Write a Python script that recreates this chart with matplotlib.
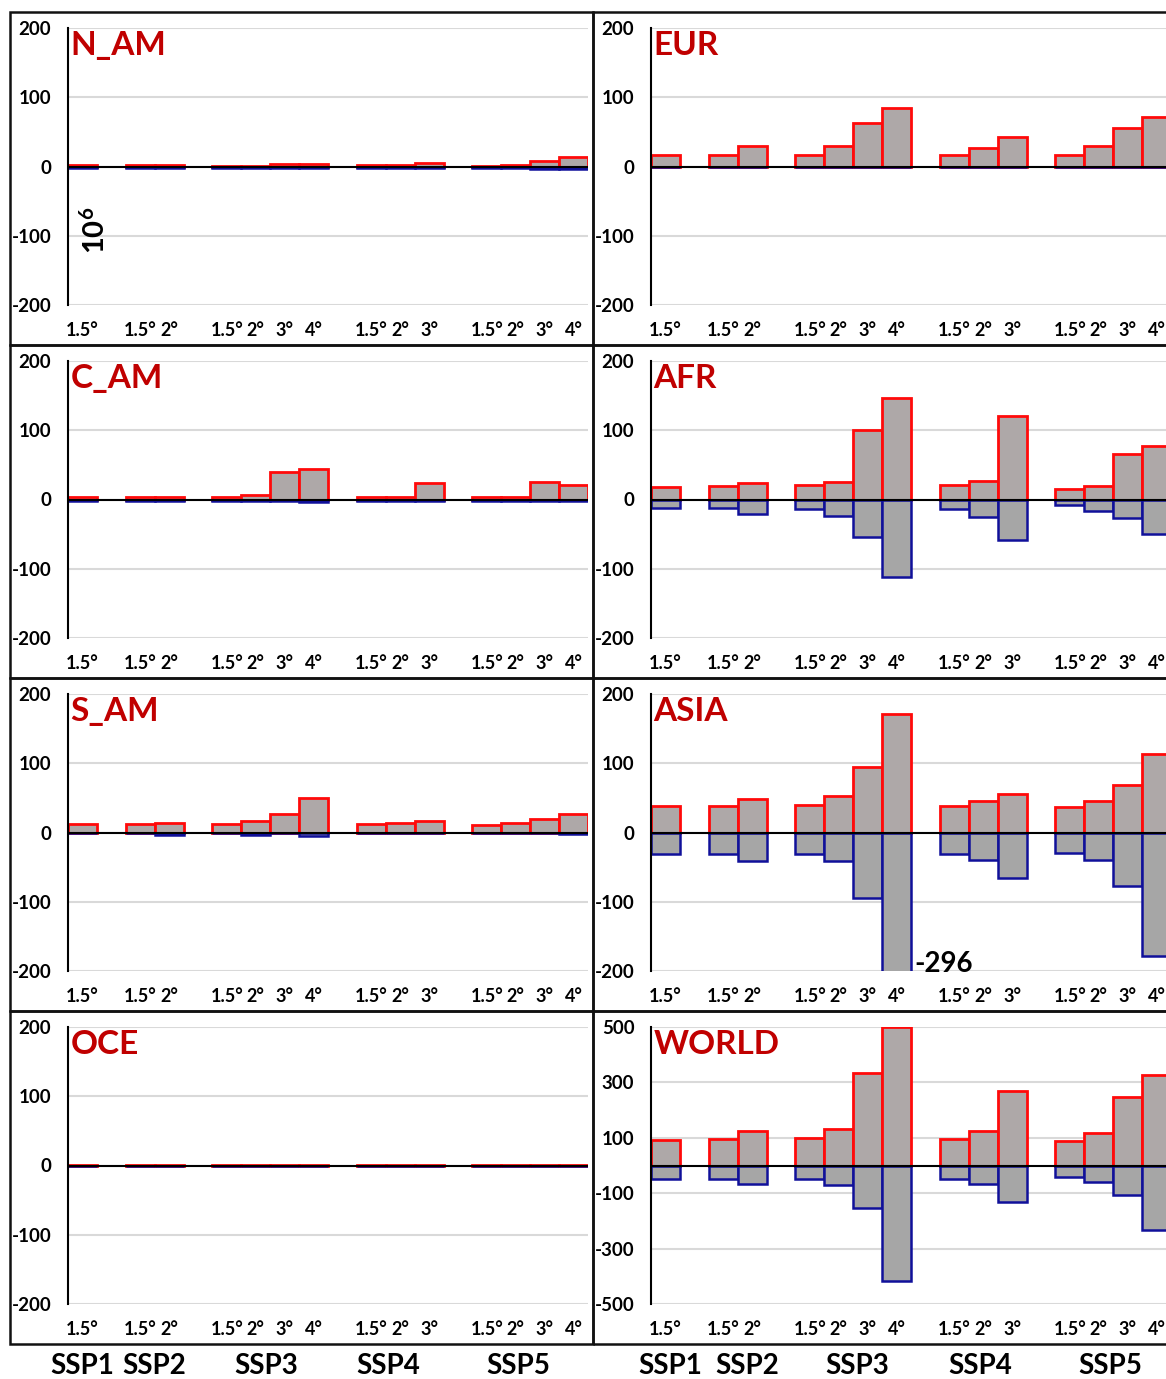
import matplotlib
matplotlib.use('Agg')
import matplotlib.pyplot as plt
from matplotlib.patches import Rectangle
from matplotlib.transforms import blended_transform_factory
import numpy as np

plt.rcParams['font.family'] = ['Lato', 'DejaVu Sans']
plt.rcParams['mathtext.fontset'] = 'custom'
plt.rcParams['mathtext.bf'] = 'Lato:bold'
plt.rcParams['mathtext.rm'] = 'Lato:bold'

# ---------------- data ----------------
ssp_groups = ['SSP1', 'SSP2', 'SSP3', 'SSP4', 'SSP5']
warming_levels = [['1.5°'], ['1.5°', '2°'], ['1.5°', '2°', '3°', '4°'],
                  ['1.5°', '2°', '3°'], ['1.5°', '2°', '3°', '4°']]

regions = ['N_AM', 'EUR', 'C_AM', 'AFR', 'S_AM', 'ASIA', 'OCE', 'WORLD']

# bar order: SSP1 1.5 | SSP2 1.5 2 | SSP3 1.5 2 3 4 | SSP4 1.5 2 3 | SSP5 1.5 2 3 4
n_am_pos = [2, 2, 2, 1, 1, 4, 4, 2, 2, 5, 1, 2, 8, 14]
n_am_neg = [-2, -2, -2, -2, -2, -2, -2, -2, -2, -2, -2, -2, -3, -3]

eur_pos = [16, 16, 30, 16, 30, 63, 85, 16, 27, 43, 16, 29, 56, 72]
eur_neg = [-1, -1, -1, -1, -1, -1, -1, -1, -1, -1, -1, -1, -1, -1]

c_am_pos = [4, 4, 4, 4, 6, 40, 44, 4, 4, 24, 4, 4, 25, 21]
c_am_neg = [-2, -2, -2, -2, -2, -2, -3, -2, -2, -2, -2, -2, -2, -2]

afr_pos = [18, 19, 24, 21, 25, 101, 147, 21, 27, 121, 15, 19, 66, 77]
afr_neg = [-12, -12, -21, -13, -24, -54, -112, -13, -25, -59, -8, -16, -26, -50]

s_am_pos = [12, 12, 14, 12, 16, 27, 50, 12, 13, 16, 11, 13, 19, 27]
s_am_neg = [-1, -1, -3, -1, -3, -1, -5, -1, -1, -1, -1, -1, -1, -2]

asia_pos = [38, 38, 49, 40, 53, 95, 171, 38, 46, 56, 37, 46, 69, 113]
asia_neg = [-31, -31, -41, -31, -41, -94, -296, -31, -40, -66, -30, -40, -77, -179]

oce_pos = [1, 1, 1, 1, 1, 1, 1, 1, 1, 1, 1, 1, 1, 1]
oce_neg = [-1, -1, -1, -1, -1, -1, -1, -1, -1, -1, -1, -1, -1, -1]

world_pos = [91, 95, 125, 99, 131, 335, 500, 96, 123, 270, 87, 117, 246, 327]
world_neg = [-47, -47, -67, -47, -70, -154, -418, -47, -67, -130, -43, -60, -108, -234]

std_ticks = [-200, -100, 0, 100, 200]
world_ticks = [-500, -300, -100, 100, 300, 500]

panel_data = {
    'N_AM': (n_am_pos, n_am_neg, std_ticks),
    'EUR': (eur_pos, eur_neg, std_ticks),
    'C_AM': (c_am_pos, c_am_neg, std_ticks),
    'AFR': (afr_pos, afr_neg, std_ticks),
    'S_AM': (s_am_pos, s_am_neg, std_ticks),
    'ASIA': (asia_pos, asia_neg, std_ticks),
    'OCE': (oce_pos, oce_neg, std_ticks),
    'WORLD': (world_pos, world_neg, world_ticks),
}

# ---------------- layout ----------------
W, H = 1166, 1379
fig = plt.figure(figsize=(W / 100, H / 100), dpi=100)
fig.patch.set_facecolor('white')

# bar slot positions (1 empty slot between SSP groups)
positions = []
labels = []
s = 0
for lv in warming_levels:
    for l in lv:
        positions.append(s)
        labels.append(l)
        s += 1
    s += 1
n_slots = s - 1

col_left = [68, 651]
ax_w = 520
row_top = [12 + 333 * r for r in range(4)]

pos_fill = '#aea8a8'
neg_fill = '#a6a6a6'
red = '#ff0a0a'
blue = '#10109a'

ssp_label_x = [[0.0, 2.5, 6.35, 10.57, 15.1], [0.16, 2.82, 6.63, 10.88, 15.4]]

axes = {}
for i, reg in enumerate(regions):
    r, c = divmod(i, 2)
    top = row_top[r]
    y0 = top + 16
    y1 = top + 293
    ax = fig.add_axes([col_left[c] / W, 1 - y1 / H, ax_w / W, (y1 - y0) / H])
    axes[reg] = ax
    pos, neg, ticks = panel_data[reg]
    ax.bar(positions, pos, width=1.0, color=pos_fill, edgecolor=red,
           linewidth=2.0, zorder=2)
    ax.bar(positions, neg, width=1.0, color=neg_fill, edgecolor=blue,
           linewidth=1.8, zorder=2)
    ax.axhline(0, color='black', lw=1.5, zorder=3)
    ax.set_ylim(ticks[0], ticks[-1])
    ax.set_xlim(-0.5, n_slots - 0.5)
    ax.set_yticks(ticks)
    ax.set_yticklabels([str(t) for t in ticks], fontsize=13.5, fontweight='bold')
    ax.set_xticks(positions)
    ax.set_xticklabels(labels, fontsize=13, fontweight='bold')
    ax.tick_params(axis='both', length=0)
    ax.tick_params(axis='y', pad=12)
    ax.tick_params(axis='x', pad=12)
    ax.grid(axis='y', color='#d9d9d9', lw=1.5, zorder=0)
    ax.set_axisbelow(True)
    for sp in ['top', 'right', 'bottom']:
        ax.spines[sp].set_visible(False)
    ax.spines['left'].set_color('black')
    ax.spines['left'].set_linewidth(1.5)
    ax.spines['left'].set_zorder(4)
    ax.text(0.005, 0.99, reg, transform=ax.transAxes, ha='left', va='top',
            color='#c00000', fontsize=24, fontweight='bold', zorder=5)

    # panel frame
    fx0 = 10 if c == 0 else 593
    fx1 = 593 if c == 0 else 1175
    fig.add_artist(Rectangle((fx0 / W, 1 - (top + 333) / H), (fx1 - fx0) / W, 333 / H,
                             transform=fig.transFigure, fill=False,
                             edgecolor='#111111', lw=1.8))

    if r == 3:
        tr = blended_transform_factory(ax.transData, fig.transFigure)
        for lx, name in zip(ssp_label_x[c], ssp_groups):
            ax.text(lx, 1 - 1366 / H, name, transform=tr, ha='center', va='center',
                    fontsize=20, fontweight='bold', clip_on=False)

# unit label in N_AM
axes['N_AM'].text(0.052, 0.27, r'$\mathbf{10^6}$', transform=axes['N_AM'].transAxes,
                  rotation=90, ha='center', va='center', fontsize=21)

# off-scale value annotation in ASIA
ax = axes['ASIA']
ax.text(positions[6] + 0.6, -190, '-296', ha='left', va='center', fontsize=20,
        fontweight='bold', color='black', clip_on=False, zorder=6)

fig.savefig('out.png', dpi=100, facecolor='white')
